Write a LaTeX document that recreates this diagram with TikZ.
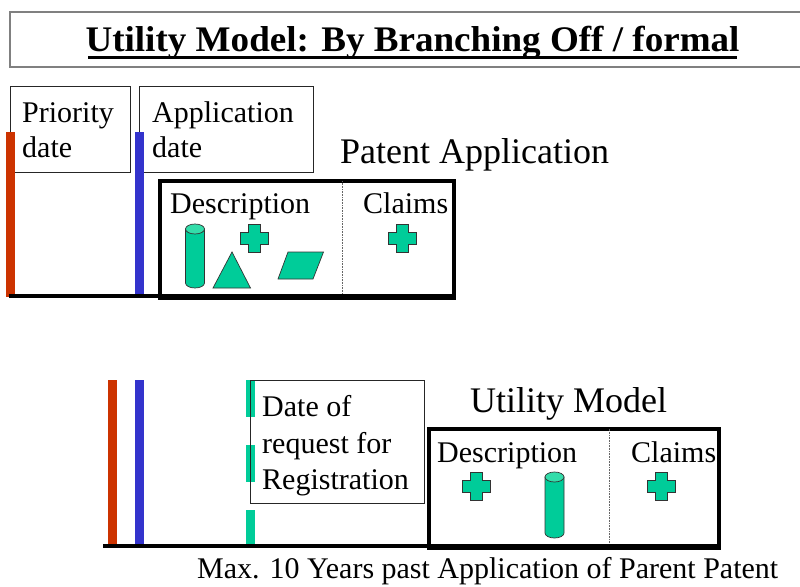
\documentclass[tikz,border=0pt]{standalone}
\usepackage{fontspec}
\setmainfont{Liberation Serif}
\definecolor{bred}{HTML}{CC3300}
\definecolor{bblue}{HTML}{3333CC}
\definecolor{bgreen}{HTML}{00CC99}
\definecolor{bgreenlt}{HTML}{33DDAA}
\begin{document}
\begin{tikzpicture}[x=1pt,y=-1pt,
  lbl/.style={anchor=base west,inner sep=0pt,font=\fontsize{30}{36}\selectfont},
  biglbl/.style={anchor=base west,inner sep=0pt,font=\fontsize{36}{42}\selectfont},
  datebox/.style={draw=black!85,line width=0.9pt},
  docbox/.style={draw=black,line width=4pt},
  timeline/.style={draw=black,line width=4pt},
  divider/.style={draw=black!60,line width=0.6pt,densely dotted},
  bar/.style={line width=9pt},
  shapestyle/.style={draw=black!80,line width=0.7pt,fill=bgreen},
  crossshape/.pic={
    \path[shapestyle] (8,0) -- (20,0) -- (20,8) -- (28,8) -- (28,20) -- (20,20)
      -- (20,28) -- (8,28) -- (8,20) -- (0,20) -- (0,8) -- (8,8) -- cycle;
  },
  cylshape/.pic={
    \path[shapestyle] (0,5) -- (0,-5+\cylh) arc[start angle=180,end angle=360,x radius=9.5pt,y radius=5pt]
      -- (19,5) -- cycle;
    \path[shapestyle,fill=bgreenlt] (9.5,5) ellipse[x radius=9.5pt,y radius=5pt];
  }
]
\useasboundingbox (0,0) rectangle (800,586);

% title
\draw[draw=black!50,line width=1.2pt] (10,12) rectangle (803,67);
\node[anchor=base,inner sep=0pt,font=\fontsize{36}{40}\selectfont\bfseries] (title) at (412.5,52)
  {\scalebox{1.03}[1]{Utility Model: By Branching Off / formal}};
\coordinate (ulL) at (88,57.5);
\coordinate (ulR) at (737,57.5);
\draw[line width=3pt] (ulL) -- (ulR);

% ---------- top: patent application ----------
\node[datebox,anchor=north west,minimum width=120pt,minimum height=86pt,inner sep=0pt] (prbox) at (10,86) {};
\node[datebox,anchor=north west,minimum width=174pt,minimum height=86pt,inner sep=0pt] (apbox) at (139,86) {};
\node[lbl] (pr1) at (22,122) {Priority};
\node[lbl] (pr2) at (22,157) {date};
\node[lbl] (ap1) at (152,122) {Application};
\node[lbl] (ap2) at (152,157) {date};

\coordinate (redT) at (10.5,132);
\coordinate (redB) at (10.5,297);
\coordinate (bluT) at (139.5,132);
\coordinate (bluB) at (139.5,297);
\draw[bar,bred] (redT) -- (redB);
\draw[bar,bblue] (bluT) -- (bluB);

\node[biglbl] (patent) at (340,163) {Patent Application};
\node[docbox,anchor=north west,minimum width=294pt,minimum height=117pt,inner sep=0pt] (pbox) at (158,179) {};
\coordinate (pdivT) at (342,181);
\coordinate (pdivB) at (342,294);
\draw[divider] (pdivT) -- (pdivB);
\coordinate (tlA) at (9,296);
\coordinate (tlB) at (455,296);
\draw[timeline] (tlA) -- (tlB);

\node[lbl] (pdesc) at (170,213) {Description};
\node[lbl] (pclaims) at (363,213) {Claims};

\def\cylh{64}
\pic at (185.5,224) {cylshape};
\pic at (240.5,224) {crossshape};
\path[shapestyle] (232,252) -- (250.5,288) -- (213,288) -- cycle;
\path[shapestyle] (288,252) -- (323.5,252) -- (313,279) -- (278,279) -- cycle;
\pic at (388.5,224) {crossshape};

% ---------- bottom: utility model ----------
\coordinate (red2T) at (112,380);
\coordinate (red2B) at (112,546);
\coordinate (blu2T) at (139.5,380);
\coordinate (blu2B) at (139.5,546);
\coordinate (grnT) at (250.5,380);
\coordinate (grnB) at (250.5,547);
\draw[bar,bred] (red2T) -- (red2B);
\draw[bar,bblue] (blu2T) -- (blu2B);
\draw[bar,bgreen,dash pattern=on 37pt off 28pt] (grnT) -- (grnB);

\node[datebox,anchor=north west,minimum width=174pt,minimum height=123pt,inner sep=0pt] (rqbox) at (250,380) {};
\node[lbl] (rq1) at (262,416) {Date of};
\node[lbl] (rq2) at (262,453) {request for};
\node[lbl] (rq3) at (262,489) {Registration};

\node[biglbl] (utility) at (470,412) {Utility Model};
\node[docbox,anchor=north west,minimum width=290.5pt,minimum height=119.5pt,inner sep=0pt] (ubox) at (426.5,426.5) {};
\coordinate (udivT) at (609,428.5);
\coordinate (udivB) at (609,544);
\draw[divider] (udivT) -- (udivB);
\coordinate (tl2A) at (103,546);
\coordinate (tl2B) at (719,546);
\draw[timeline] (tl2A) -- (tl2B);

\node[lbl] (udesc) at (437,462) {Description};
\node[lbl] (uclaims) at (631,462) {Claims};
\pic at (462.5,472.5) {crossshape};
\def\cylh{66}
\pic at (545,472) {cylshape};
\pic at (647,472.5) {crossshape};

\node[lbl] (maxnote) at (197,578) {Max. 10 Years past Application of Parent Patent};
\end{tikzpicture}
\end{document}
